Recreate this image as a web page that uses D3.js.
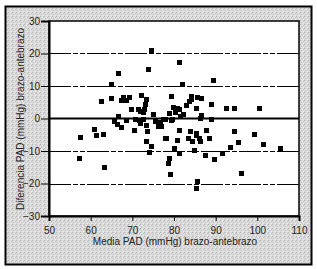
<!DOCTYPE html>
<html>
<head>
<meta charset="utf-8">
<script src="https://cdn.jsdelivr.net/npm/d3@7"></script>
<style>
  body { margin: 0; background: #fff; }
  svg { display: block; }
</style>
</head>
<body>
<div id="wrapper"></div>
<script>
// Bland-Altman points: media PAD (x) vs diferencia PAD (y)
const mediaPAD = [
  74.5, 81.2, 73.9, 66.6, 89.5, 65.0, 82.0, 72.3, 79.3, 84.2,
  67.8, 69.3, 85.7, 64.9, 86.7, 73.5, 84.1, 67.4, 68.7, 83.7,
  62.7, 88.9, 73.2, 83.0, 79.8, 80.9, 85.4, 92.6, 94.6, 100.6,
  73.0, 69.8, 71.4, 81.3, 71.9, 80.4, 72.8, 78.9, 75.1, 82.2,
  86.6, 66.6, 81.5, 86.4, 88.9, 79.6, 77.4, 77.9, 65.8, 68.6,
  70.8, 71.8, 72.8, 79.4, 66.5, 76.7, 67.4, 76.2, 77.1, 72.0,
  73.5, 75.5, 60.9, 70.5, 81.3, 87.8, 73.6, 83.9, 94.6, 63.0,
  85.3, 99.3, 61.4, 85.3, 57.5, 78.0, 78.3, 86.0, 88.5, 83.6,
  80.9, 84.4, 86.3, 73.5, 95.6, 101.6, 74.5, 93.5, 80.1, 105.5,
  85.0, 74.1, 81.3, 91.6, 87.5, 57.4, 78.9, 89.7, 78.6, 63.2,
  96.1, 79.1, 85.6, 85.4
]
const diferenciaPAD = [
  20.8, 17.3, 15.0, 14.0, 11.6, 10.6, 10.6, 7.2, 6.9, 6.8,
  6.5, 6.5, 6.5, 6.2, 6.2, 6.0, 5.9, 5.5, 5.5, 5.3,
  5.2, 4.4, 4.3, 4.1, 3.3, 3.1, 3.1, 3.0, 3.0, 3.0,
  2.9, 2.8, 2.9, 2.9, 2.2, 2.0, 1.8, 1.6, 1.1, 1.1,
  0.8, 0.5, 0.5, -0.1, -0.2, -0.3, -0.2, -0.2, -0.8, -0.7,
  -0.3, -0.5, -0.3, -0.6, -1.8, -1.3, -2.7, -2.5, -2.5, -1.5,
  -2.0, -1.0, -3.3, -3.6, -3.6, -3.6, -4.1, -3.9, -3.9, -4.8,
  -4.7, -4.8, -5.3, -5.2, -5.8, -6.0, -6.3, -6.0, -6.0, -6.2,
  -6.7, -7.0, -7.2, -7.1, -7.5, -8.1, -8.6, -8.9, -9.1, -9.1,
  -9.8, -10.4, -10.9, -10.9, -11.5, -12.2, -12.2, -12.7, -13.8, -15.1,
  -16.8, -17.1, -19.3, -21.4
]
const xTicks = [50, 60, 70, 80, 90, 100, 110]
const yTicks = [-30, -20, -10, 0, 10, 20, 30]
const gridValues = [-20, -10, 10, 20]
const xTitle = "Media PAD (mmHg) brazo-antebrazo"
const yTitle = "Diferencia PAD (mmHg) brazo-antebrazo"

const data = mediaPAD.map((m, i) => ({ x: m, y: diferenciaPAD[i] }))
const xAccessor = (d) => d.x
const yAccessor = (d) => d.y

const dimensions = {
  width: 317,
  height: 269,
  margins: { top: 21, right: 18, bottom: 53, left: 49 },
}
dimensions.boundedWidth =
  dimensions.width - dimensions.margins.left - dimensions.margins.right
dimensions.boundedHeight =
  dimensions.height - dimensions.margins.top - dimensions.margins.bottom

const wrapper = d3
  .select("#wrapper")
  .append("svg")
  .attr("width", dimensions.width)
  .attr("height", dimensions.height)

// stippled grey panel
const defs = wrapper.append("defs")
const pattern = defs
  .append("pattern")
  .attr("id", "stipple")
  .attr("width", 4)
  .attr("height", 4)
  .attr("patternUnits", "userSpaceOnUse")
pattern.append("rect").attr("width", 4).attr("height", 4).attr("fill", "#dadada")
;[[0, 0, "#b4b4b4"], [2, 1, "#f2f2f2"], [1, 2, "#c4c4c4"], [3, 3, "#eeeeee"], [3, 1, "#bcbcbc"]]
  .forEach(([px, py, c]) =>
    pattern.append("rect").attr("x", px).attr("y", py).attr("width", 1).attr("height", 1).attr("fill", c)
  )

wrapper
  .append("rect")
  .attr("x", 5.5)
  .attr("y", 6.5)
  .attr("width", 306)
  .attr("height", 258)
  .attr("fill", "url(#stipple)")
  .attr("stroke", "#000")
  .attr("stroke-width", 2)

const bounds = wrapper
  .append("g")
  .attr("transform", `translate(${dimensions.margins.left},${dimensions.margins.top})`)

bounds
  .append("rect")
  .attr("width", dimensions.boundedWidth)
  .attr("height", dimensions.boundedHeight)
  .attr("fill", "#fff")

// scales
const xScale = d3
  .scaleLinear()
  .domain([50, 110])
  .range([0, dimensions.boundedWidth])

const yScale = d3
  .scaleLinear()
  .domain([-30, 30])
  .range([dimensions.boundedHeight, 0])

// reference lines
bounds
  .append("g")
  .selectAll("line")
  .data(gridValues)
  .join("line")
  .attr("x1", 0)
  .attr("x2", dimensions.boundedWidth)
  .attr("y1", (d) => Math.round(yScale(d)) + 0.5)
  .attr("y2", (d) => Math.round(yScale(d)) + 0.5)
  .attr("stroke", "#000")
  .attr("stroke-width", 1)
  .attr("stroke-dasharray", "22,2,5,2,5,2")

bounds
  .append("line")
  .attr("x1", 0)
  .attr("x2", dimensions.boundedWidth)
  .attr("y1", yScale(0))
  .attr("y2", yScale(0))
  .attr("stroke", "#000")
  .attr("stroke-width", 2)

// points
const size = 5
bounds
  .append("g")
  .selectAll("rect")
  .data(data)
  .join("rect")
  .attr("x", (d) => Math.round(xScale(xAccessor(d)) - size / 2))
  .attr("y", (d) => Math.round(yScale(yAccessor(d)) - size / 2))
  .attr("width", size)
  .attr("height", size)
  .attr("fill", "#000")

// plot frame
bounds
  .append("rect")
  .attr("x", 0)
  .attr("y", 0)
  .attr("width", dimensions.boundedWidth)
  .attr("height", dimensions.boundedHeight)
  .attr("fill", "none")
  .attr("stroke", "#000")
  .attr("stroke-width", 1.5)

// axes
const fmt = (d) => (d < 0 ? "\u2212" + Math.abs(d) : d)

const yAxis = bounds
  .append("g")
  .call(d3.axisLeft(yScale).tickValues(yTicks).tickSize(8).tickPadding(1).tickFormat(fmt))
yAxis.select(".domain").attr("stroke-width", 2)

const xAxis = bounds
  .append("g")
  .attr("transform", `translate(0,${dimensions.boundedHeight})`)
  .call(d3.axisBottom(xScale).tickValues(xTicks).tickSize(5).tickPadding(6))
xAxis.select(".domain").attr("stroke-width", 2)

wrapper
  .selectAll(".tick text")
  .attr("fill", "#222")
  .style("font-family", "'Liberation Sans', Arial, sans-serif")
  .style("font-size", "10px")

// titles
wrapper
  .append("text")
  .text(xTitle)
  .attr("x", 175)
  .attr("y", 245)
  .attr("text-anchor", "middle")
  .attr("fill", "#222")
  .style("font-family", "'Liberation Sans', Arial, sans-serif")
  .style("font-size", "10px")

wrapper
  .append("text")
  .text(yTitle)
  .attr("transform", "translate(24,119) rotate(-90)")
  .attr("text-anchor", "middle")
  .attr("fill", "#222")
  .style("font-family", "'Liberation Sans', Arial, sans-serif")
  .style("font-size", "10px")
</script>
</body>
</html>
